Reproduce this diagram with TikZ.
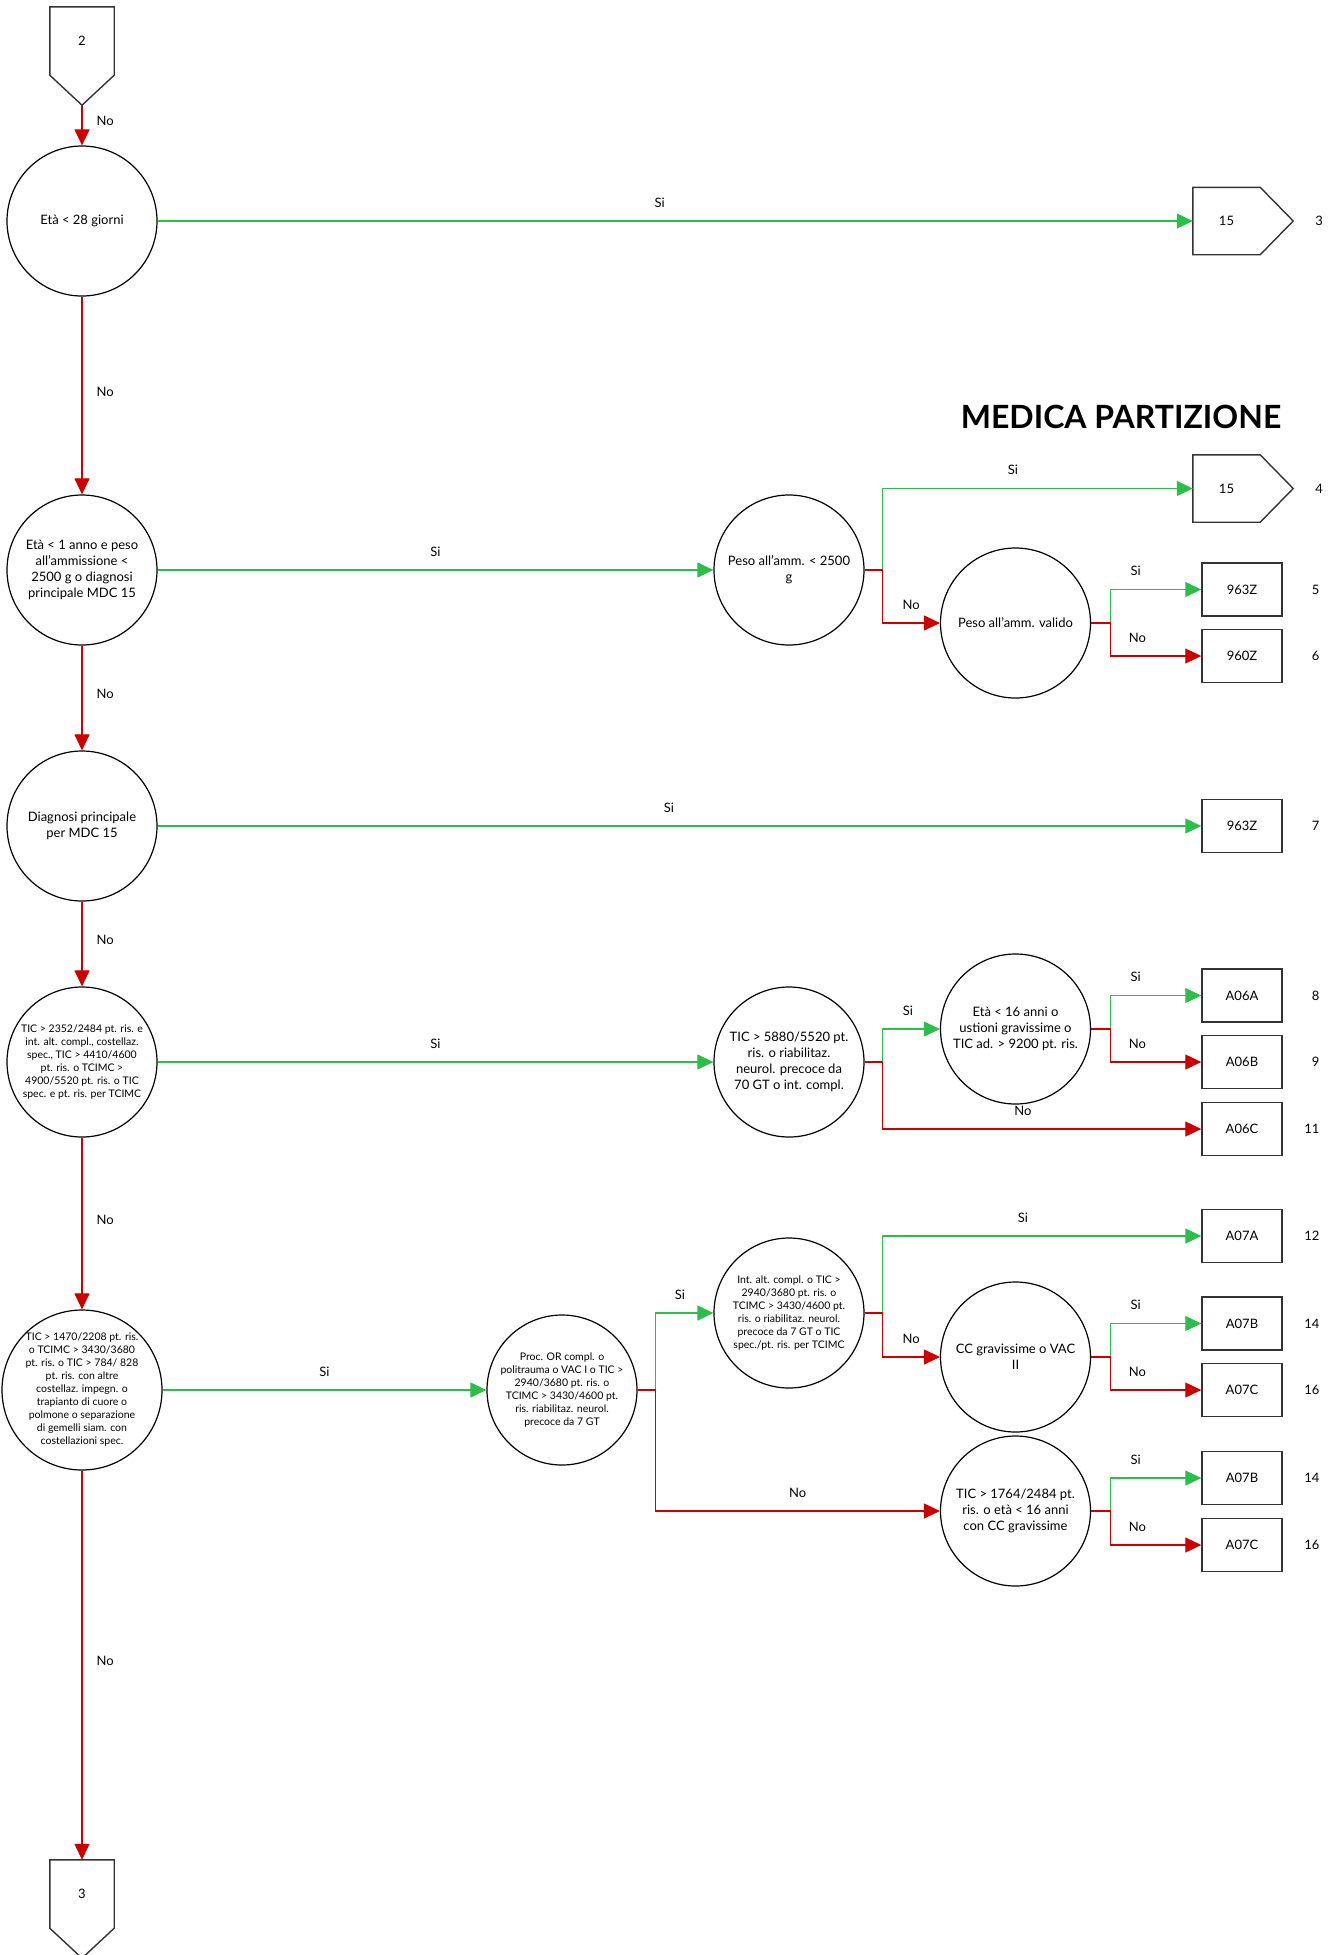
\documentclass[tikz,border=0pt]{standalone}
\usepackage{fontspec}
\setmainfont{Lato}
\usetikzlibrary{shapes,arrows.meta,positioning,calc}
\definecolor{sigreen}{RGB}{44,190,74}
\definecolor{nored}{RGB}{204,0,0}
\definecolor{edge}{RGB}{51,51,51}
\tikzstyle{dec} = [draw, circle, minimum size=150pt, inner sep=0pt, align=center, line width=1.2pt, font=\fontsize{13}{16}\selectfont]
\tikzstyle{decs} = [dec, font=\fontsize{10.5}{13}\selectfont]
\tikzstyle{ctext} = [align=center, inner sep=0pt, font=\fontsize{10.5}{13}\selectfont]
\tikzstyle{drg} = [draw=edge, rectangle, minimum width=80pt, minimum height=53pt, line width=1.4pt, font=\fontsize{13}{16}\selectfont]
\tikzstyle{offpage} = [rectangle, inner sep=0pt, font=\fontsize{13}{16}\selectfont]
\tikzstyle{pent} = [draw=edge, line width=1.4pt, line join=miter]
\tikzstyle{arrsi} = [draw, line width=1.1pt, ->, color=sigreen]
\tikzstyle{arrno} = [draw, line width=1.1pt, ->, color=nored]
\tikzstyle{lbl} = [inner sep=0pt, text=black, font=\fontsize{13}{16}\selectfont]
\tikzstyle{lblv} = [lbl, right=14pt, yshift=4pt]
\tikzstyle{lblh} = [lbl, above=13pt]
\tikzstyle{num} = [anchor=east, inner sep=0pt, font=\fontsize{13}{16}\selectfont]
\tikzstyle{title} = [inner sep=0pt, font=\fontsize{32}{38}\selectfont\bfseries]

\begin{document}
\begin{tikzpicture}[x=1pt, y=-1pt, >={Triangle[length=16pt,width=15pt]}]
    \useasboundingbox (0,0) rectangle (1341,1955);

    \node [offpage, minimum width=64pt, minimum height=68pt] (c2) at (82,41) {2};
    \coordinate (c2tip) at ($(c2.south)+(0,30)$);
    \draw [pent] (c2.north west) -- (c2.north east) -- (c2.south east) -- (c2tip) -- (c2.south west) -- cycle;

    \node [dec] (d1) at (82,221) {Età < 28 giorni};
    \node [dec] (d2) at (82,570) {Età < 1 anno e peso\\all’ammissione <\\2500 g o diagnosi\\principale MDC 15};
    \node [dec] (d3) at (82,826) {Diagnosi principale\\per MDC 15};
    \node [decs] (d4) at (82,1062) {TIC > 2352/2484 pt. ris. e\\int. alt. compl., costellaz.\\spec., TIC > 4410/4600\\pt. ris. o TCIMC >\\4900/5520 pt. ris. o TIC\\spec. e pt. ris. per TCIMC};
    \node [decs, minimum size=160pt, label={[ctext]center:{TIC > 1470/2208 pt. ris.\\o TCIMC > 3430/3680\\pt. ris. o TIC > 784/ 828\\pt. ris. con altre\\costellaz. impegn. o\\trapianto di cuore o\\polmone o separazione\\di gemelli siam. con\\costellazioni spec.}}] (d5) at (82,1390) {};

    \node [offpage, minimum width=64pt, minimum height=68pt] (c3) at (82,1894) {3};
    \coordinate (c3tip) at ($(c3.south)+(0,30)$);
    \draw [pent] (c3.north west) -- (c3.north east) -- (c3.south east) -- (c3tip) -- (c3.south west) -- cycle;

    \node [offpage, minimum width=67pt, minimum height=67pt] (p15a) at (1226.5,221) {15};
    \coordinate (p15atip) at ($(p15a.east)+(33,0)$);
    \draw [pent] (p15a.north west) -- (p15a.north east) -- (p15atip) -- (p15a.south east) -- (p15a.south west) -- cycle;

    \node [title] (ttl) at (1121,417) {MEDICA PARTIZIONE};

    \node [dec] (peso) at (789,570) {Peso all’amm. < 2500\\g};
    \node [offpage, minimum width=67pt, minimum height=67pt] (p15b) at (1226.5,488.5) {15};
    \coordinate (p15btip) at ($(p15b.east)+(33,0)$);
    \draw [pent] (p15b.north west) -- (p15b.north east) -- (p15btip) -- (p15b.south east) -- (p15b.south west) -- cycle;
    \node [dec] (valido) at (1015.5,623) {Peso all’amm. valido};
    \node [drg] (b5) at (1242,589.5) {963Z};
    \node [drg] (b6) at (1242,656) {960Z};

    \node [drg] (b7) at (1242,826) {963Z};

    \node [dec] (tic58) at (789,1062) {TIC > 5880/5520 pt.\\ris. o riabilitaz.\\neurol. precoce da\\70 GT o int. compl.};
    \node [dec] (eta16) at (1015.5,1029) {Età < 16 anni o\\ustioni gravissime o\\TIC ad. > 9200 pt. ris.};
    \node [drg] (b8) at (1242,995.5) {A06A};
    \node [drg] (b9) at (1242,1062) {A06B};
    \node [drg] (b11) at (1242,1129) {A06C};

    \node [decs] (proc) at (562,1390) {Proc. OR compl. o\\politrauma o VAC I o TIC >\\2940/3680 pt. ris. o\\TCIMC > 3430/4600 pt.\\ris. riabilitaz. neurol.\\precoce da 7 GT};
    \node [decs] (intc) at (789,1313) {Int. alt. compl. o TIC >\\2940/3680 pt. ris. o\\TCIMC > 3430/4600 pt.\\ris. o riabilitaz. neurol.\\precoce da 7 GT o TIC\\spec./pt. ris. per TCIMC};
    \node [drg] (b12) at (1242,1236) {A07A};
    \node [dec] (ccg) at (1015.5,1357) {CC gravissime o VAC\\II};
    \node [drg] (b14) at (1242,1323.5) {A07B};
    \node [drg] (b16) at (1242,1390) {A07C};
    \node [dec] (tic17) at (1015.5,1511) {TIC > 1764/2484 pt.\\ris. o età < 16 anni\\con CC gravissime};
    \node [drg] (b14b) at (1242,1478) {A07B};
    \node [drg] (b16b) at (1242,1545) {A07C};

    \node [num] (n3) at ($(p15atip)+(30,0)$) {3};
    \node [num] (n4) at ($(p15btip)+(30,0)$) {4};
    \node [num] (n5) at ($(b5.east)+(37,0)$) {5};
    \node [num] (n6) at ($(b6.east)+(37,0)$) {6};
    \node [num] (n7) at ($(b7.east)+(37,0)$) {7};
    \node [num] (n8) at ($(b8.east)+(37,0)$) {8};
    \node [num] (n9) at ($(b9.east)+(37,0)$) {9};
    \node [num] (n11) at ($(b11.east)+(37,0)$) {11};
    \node [num] (n12) at ($(b12.east)+(37,0)$) {12};
    \node [num] (n14) at ($(b14.east)+(37,0)$) {14};
    \node [num] (n16) at ($(b16.east)+(37,0)$) {16};
    \node [num] (n14b) at ($(b14b.east)+(37,0)$) {14};
    \node [num] (n16b) at ($(b16b.east)+(37,0)$) {16};

    \draw [arrno] (c2tip) -- node [lblv] {No} (d1);
    \draw [arrno] (d1) -- node [lblv] {No} (d2);
    \draw [arrno] (d2) -- node [lblv] {No} (d3);
    \draw [arrno] (d3) -- node [lblv] {No} (d4);
    \draw [arrno] (d4) -- node [lblv] {No} (d5);
    \draw [arrno] (d5) -- node [lblv] {No} (c3);

    \draw [arrsi] (d1) -- node [lblh, pos=.485] {Si} (p15a);
    \draw [arrsi] (d2) -- node [lblh] {Si} (peso);
    \draw [arrsi] (d3) -- node [lblh, pos=.49] {Si} (b7);
    \draw [arrsi] (d4) -- node [lblh] {Si} (tic58);
    \draw [arrsi] (d5) -- node [lblh] {Si} (proc);

    \draw [arrsi] (peso.east) -- ++(18,0) |- node [lblh, pos=.71] {Si} (p15b.west);
    \draw [arrno] (peso.east) -- ++(18,0) |- node [lblh, pos=.75] {No} (valido.west);
    \draw [arrsi] (valido.east) -- ++(19,0) |- node [lblh, pos=.64] {Si} (b5.west);
    \draw [arrno] (valido.east) -- ++(19,0) |- node [lblh, pos=.65] {No} (b6.west);

    \draw [arrsi] (tic58.east) -- ++(18,0) |- node [lblh, pos=.72] {Si} (eta16.west);
    \draw [arrno] (tic58.east) -- ++(18,0) |- node [lblh, pos=.72] {No} (b11.west);
    \draw [arrsi] (eta16.east) -- ++(19,0) |- node [lblh, pos=.64] {Si} (b8.west);
    \draw [arrno] (eta16.east) -- ++(19,0) |- node [lblh, pos=.65] {No} (b9.west);

    \draw [arrsi] (proc.east) -- ++(18,0) |- node [lblh, pos=.71] {Si} (intc.west);
    \draw [arrno] (proc.east) -- ++(18,0) |- node [lblh, pos=.75] {No} (tic17.west);
    \draw [arrsi] (intc.east) -- ++(18,0) |- node [lblh, pos=.72] {Si} (b12.west);
    \draw [arrno] (intc.east) -- ++(18,0) |- node [lblh, pos=.75] {No} (ccg.west);
    \draw [arrsi] (ccg.east) -- ++(19,0) |- node [lblh, pos=.64] {Si} (b14.west);
    \draw [arrno] (ccg.east) -- ++(19,0) |- node [lblh, pos=.65] {No} (b16.west);
    \draw [arrsi] (tic17.east) -- ++(19,0) |- node [lblh, pos=.64] {Si} (b14b.west);
    \draw [arrno] (tic17.east) -- ++(19,0) |- node [lblh, pos=.65] {No} (b16b.west);
\end{tikzpicture}
\end{document}
